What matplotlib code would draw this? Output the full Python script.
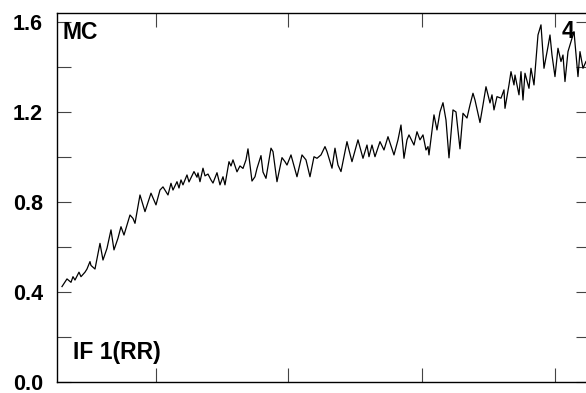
import numpy as np
import matplotlib
matplotlib.use('Agg')
import matplotlib.pyplot as plt

plt.rcParams['font.family'] = ['Liberation Sans', 'DejaVu Sans']
plt.rcParams['font.weight'] = 'bold'

# trace (x = sample position, y = value)
x = [4, 9, 13, 15, 17, 21, 23, 27, 29, 32, 33, 37, 42, 45, 49, 53, 56, 60, 63, 66,
     72, 75, 77, 82, 87,
     93, 98, 102, 105, 110, 113, 115, 119, 121, 123, 125, 129, 131, 136, 139, 140,
     142, 145, 147, 150, 153, 155, 159, 162, 165, 167, 171, 173, 175,
     179, 182, 185, 188, 190, 194, 197, 199, 203, 205, 208, 213, 215, 219, 224, 227,
     229, 233, 239, 244, 248, 252, 256, 259, 263,
     267, 269, 274, 277, 280, 283, 289, 291, 294, 300, 305, 309, 311, 314, 317, 322,
     326, 330, 336, 340, 343, 346, 349, 351,
     356, 359, 362, 365, 368, 370, 371, 376, 379, 382, 385, 388, 391, 395, 398, 402,
     405, 409, 412, 415, 417, 422, 425, 428, 432, 434, 436, 439,
     443, 446, 447, 451, 453, 456, 457, 461, 463, 465, 467, 471, 473, 476, 480, 483,
     486, 490, 492, 494, 497, 500, 503, 505, 507, 510, 513, 516, 520, 522, 525, 528]
y = [0.424, 0.458, 0.443, 0.468, 0.453, 0.488, 0.468, 0.488, 0.502, 0.535, 0.518, 0.502,
     0.616, 0.542, 0.594, 0.676, 0.587, 0.639, 0.690, 0.653,
     0.742, 0.727, 0.705, 0.831, 0.757,
     0.839, 0.787, 0.853, 0.867, 0.831, 0.883, 0.853, 0.890, 0.862, 0.898, 0.876, 0.920,
     0.889, 0.935, 0.910, 0.929, 0.890, 0.950, 0.916, 0.924, 0.898, 0.884, 0.930, 0.876,
     0.912, 0.876, 0.979, 0.960, 0.987,
     0.934, 0.960, 0.949, 0.987, 1.036, 0.893, 0.912, 0.949, 1.006, 0.933, 0.905, 1.039,
     1.024, 0.890, 0.997, 0.979, 0.964, 1.009, 0.912, 1.009, 0.987, 0.912, 1.001, 0.994,
     1.009,
     1.046, 1.024, 0.950, 1.039, 0.964, 0.935, 1.068, 1.031, 0.979, 1.076, 0.994, 1.053,
     1.001, 1.053, 1.001, 1.068, 1.031, 1.090, 1.009, 1.076, 1.142, 0.994, 1.076, 1.098,
     1.053, 1.112, 1.076, 1.098, 1.031, 1.046, 1.009, 1.187, 1.120, 1.200, 1.241, 1.164,
     0.996, 1.209, 1.200, 1.036, 1.194, 1.173, 1.231, 1.283, 1.253, 1.153, 1.231, 1.312,
     1.240, 1.276, 1.209, 1.268,
     1.261, 1.298, 1.216, 1.320, 1.379, 1.320, 1.364, 1.276, 1.379, 1.253, 1.372, 1.305,
     1.394, 1.320, 1.542, 1.587, 1.394, 1.490, 1.542, 1.453, 1.357, 1.483, 1.424, 1.453,
     1.335, 1.468, 1.512, 1.557, 1.357, 1.468, 1.394, 1.424]

yticks = [0.0, 0.4, 0.8, 1.2, 1.6]
ylabels = ['0.0', '0.4', '0.8', '1.2', '1.6']
xticks = [98, 230, 364, 497]

fig = plt.figure(figsize=(5.86, 3.93), dpi=100)
ax = fig.add_axes([0.0981, 0.028, 0.9087, 0.9397])

ax.plot(x, y, color='black', lw=0.9)

ax.set_xlim(-0.5, 532)
ax.set_ylim(0, 1.641)
ax.set_xticks(xticks)
ax.set_xticklabels([])
ax.set_yticks(yticks)
ax.set_yticklabels(ylabels, fontsize=15.5, fontweight='bold')
ax.set_yticks(np.arange(0.2, 1.6, 0.4), minor=True)

ax.tick_params(which='both', direction='in', length=10, width=0.8, color='#444444',
               top=True, right=True, pad=10.5)
for s in ax.spines.values():
    s.set_linewidth(1.0)

ax.text(0.0103, 0.946, 'MC', transform=ax.transAxes, fontsize=16.5, fontweight='bold',
        va='center', ha='left')
ax.text(0.0285, 0.080, 'IF 1(RR)', transform=ax.transAxes, fontsize=16.5, fontweight='bold',
        va='center', ha='left')
ax.text(0.947, 0.949, '4', transform=ax.transAxes, fontsize=16.5, fontweight='bold',
        va='center', ha='left', zorder=1)

fig.savefig('out.png', dpi=100)
